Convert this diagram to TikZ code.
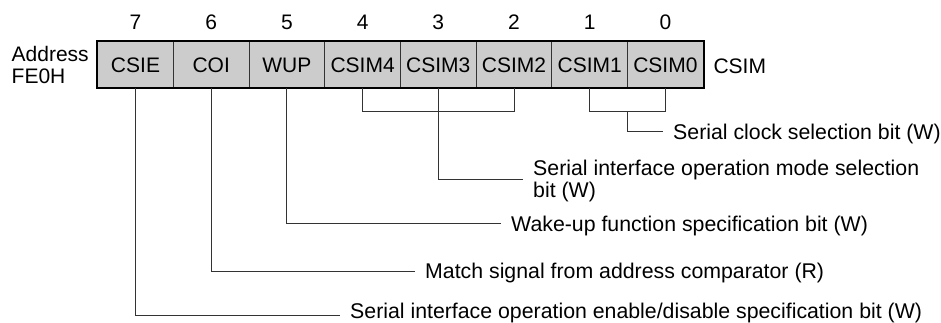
\documentclass[tikz,border=0pt]{standalone}
\usepackage{fontspec}
\setmainfont{Liberation Sans}
\begin{document}
\begin{tikzpicture}[x=1pt,y=-1pt,
  every node/.style={font=\fontsize{21}{21.7}\selectfont},
  cell/.style={draw=black!80, line width=0.8pt, fill=gray!40, minimum width=75.7pt,
    minimum height=45.6pt, inner sep=0pt, text height=17pt, text depth=0pt},
  bitnum/.style={anchor=base, inner sep=0pt},
  conn/.style={draw=black!80, line width=1pt},
  lbl/.style={anchor=west, inner xsep=10pt, inner ysep=0pt, text height=15pt, text depth=0pt,
    font=\fontsize{21.3}{21.7}\selectfont},
  lbltwo/.style={anchor=west, inner xsep=10pt, inner ysep=0pt, align=left, text depth=0pt,
    font=\fontsize{21.3}{21.7}\selectfont},
]
\useasboundingbox (0,0) rectangle (941,323);

% register cells
\node[cell] (c7) at (135.5,64.5) {CSIE};
\node[cell] (c6) at (211.2,64.5) {COI};
\node[cell] (c5) at (286.9,64.5) {WUP};
\node[cell] (c4) at (362.6,64.5) {CSIM4};
\node[cell] (c3) at (438.3,64.5) {CSIM3};
\node[cell] (c2) at (514.0,64.5) {CSIM2};
\node[cell] (c1) at (589.7,64.5) {CSIM1};
\node[cell] (c0) at (665.4,64.5) {CSIM0};
\draw[line width=2.3pt] (c7.north west) rectangle (c0.south east);

% bit numbers
\node[bitnum] (b7) at (135.5,30) {7};
\node[bitnum] (b6) at (211.2,30) {6};
\node[bitnum] (b5) at (286.9,30) {5};
\node[bitnum] (b4) at (362.6,30) {4};
\node[bitnum] (b3) at (438.3,30) {3};
\node[bitnum] (b2) at (514.0,30) {2};
\node[bitnum] (b1) at (589.7,30) {1};
\node[bitnum] (b0) at (665.4,30) {0};

% address and register name
\node[anchor=south west, inner sep=0pt, align=left, text depth=0pt] (addr) at (11.5,83.3) {Address\\FE0H};
\node[anchor=base west, inner sep=0pt] (reg) at (713.3,73.3) {CSIM};

% labels
\node[lbl] (l1) at (663,132) {Serial clock selection bit (W)};
\node[lbltwo] (l3) at (523,179) {Serial interface operation mode selection\\bit (W)};
\node[lbl] (l5) at (501,223.5) {Wake-up function specification bit (W)};
\node[lbl] (l6) at (415,271) {Match signal from address comparator (R)};
\node[lbl, text height=7pt] (l7) at (340,315) {Serial interface operation enable/disable specification bit (W)};

% connectors
\draw[conn] (c4.south) -- ++(0,23.7) -| (c2.south);
\draw[conn] (c1.south) -- ++(0,23.7) -| (c0.south);
\draw[conn] (c1.south east) ++(0,23.7) |- (l1.west);
\draw[conn] (c3.south) |- (l3.west);
\draw[conn] (c5.south) |- (l5.west);
\draw[conn] (c6.south) |- (l6.west);
\draw[conn] (c7.south) |- (l7.west);
\end{tikzpicture}
\end{document}
